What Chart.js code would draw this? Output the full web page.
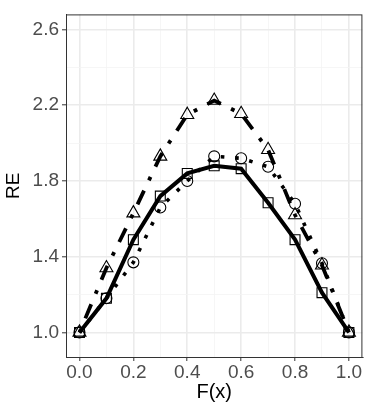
<!DOCTYPE html>
<html>
<head>
<meta charset="utf-8">
<title>RE vs F(x)</title>
<script src="https://cdn.jsdelivr.net/npm/chart.js"></script>
<style>
  html, body { margin: 0; padding: 0; background: #fff; }
  canvas { display: block; }
</style>
</head>
<body>
<canvas id="reChart" width="371" height="409"></canvas>
<script>
// values
const fx = [0.0, 0.1, 0.2, 0.3, 0.4, 0.5, 0.6, 0.7, 0.8, 0.9, 1.0];
const squareRE = [1.00, 1.18, 1.49, 1.72, 1.84, 1.88, 1.865, 1.685, 1.49, 1.21, 1.00];
const circleRE = [1.00, 1.18, 1.37, 1.66, 1.80, 1.93, 1.92, 1.875, 1.68, 1.365, 1.00];
const triangleRE = [1.00, 1.34, 1.63, 1.93, 2.15, 2.225, 2.155, 1.965, 1.62, 1.355, 1.00];

const xTicks = [0, 0.1, 0.2, 0.3, 0.4, 0.5, 0.6, 0.7, 0.8, 0.9, 1.0];
const xMajor = [0, 0.2, 0.4, 0.6, 0.8, 1.0];
const yTicks = [1.0, 1.2, 1.4, 1.6, 1.8, 2.0, 2.2, 2.4, 2.6];
const yMajor = [1.0, 1.4, 1.8, 2.2, 2.6];

const isMajor = (list, v) => list.some(m => Math.abs(m - v) < 1e-6);
const toPoints = ys => fx.map((x, i) => ({ x: x, y: ys[i] }));

// ggplot-like frame around the panel
const panelBorder = {
  id: 'panelBorder',
  afterDraw(chart) {
    const { ctx, chartArea: a } = chart;
    ctx.save();
    ctx.strokeStyle = '#333333';
    ctx.lineWidth = 1;
    ctx.strokeRect(a.left + 0.5, a.top + 0.5, a.right - a.left - 1, a.bottom - a.top);
    ctx.restore();
  }
};

const gridColor = list => c => isMajor(list, c.tick.value) ? '#EBEBEB' : '#F4F4F4';
const gridWidth = list => c => isMajor(list, c.tick.value) ? 1.6 : 0.8;
const tickColor = list => c => isMajor(list, c.tick.value) ? '#333333' : 'rgba(0,0,0,0)';

const ctx = document.getElementById('reChart').getContext('2d');
new Chart(ctx, {
  type: 'line',
  data: {
    datasets: [
      {
        label: 'square',
        data: toPoints(squareRE),
        borderColor: '#000',
        borderWidth: 4,
        pointStyle: 'rect',
        pointRadius: 7,
        pointBorderWidth: 1.1,
        pointBorderColor: '#000',
        pointBackgroundColor: 'rgba(0,0,0,0)',
        tension: 0,
        fill: false
      },
      {
        label: 'circle',
        data: toPoints(circleRE),
        borderColor: '#000',
        borderWidth: 3.6,
        borderDash: [3.6, 10.8],
        borderCapStyle: 'butt',
        pointStyle: 'circle',
        pointRadius: 5.5,
        pointBorderWidth: 1.1,
        pointBorderColor: '#000',
        pointBackgroundColor: 'rgba(0,0,0,0)',
        tension: 0,
        fill: false
      },
      {
        label: 'triangle',
        data: toPoints(triangleRE),
        borderColor: '#000',
        borderWidth: 3.8,
        borderDash: [3.8, 11.4, 15.2, 11.4],
        borderCapStyle: 'butt',
        pointStyle: 'triangle',
        pointRadius: 7.5,
        pointBorderWidth: 1.1,
        pointBorderColor: '#000',
        pointBackgroundColor: 'rgba(0,0,0,0)',
        tension: 0,
        fill: false
      }
    ]
  },
  options: {
    responsive: false,
    animation: false,
    layout: { padding: { top: 5, right: 8, left: 0, bottom: 0 } },
    plugins: {
      legend: { display: false },
      tooltip: { enabled: false }
    },
    scales: {
      x: {
        type: 'linear',
        min: -0.05,
        max: 1.05,
        afterBuildTicks: s => { s.ticks = xTicks.map(v => ({ value: v })); },
        afterFit: s => { s.height = 52; },
        grid: {
          color: gridColor(xMajor),
          lineWidth: gridWidth(xMajor),
          tickColor: tickColor(xMajor),
          tickLength: 4,
          tickWidth: 1
        },
        border: { display: true, color: '#333333', width: 1 },
        ticks: {
          autoSkip: false,
          maxRotation: 0,
          padding: 0,
          color: '#4D4D4D',
          font: { family: '"Liberation Sans", Arial, sans-serif', size: 19 },
          callback: v => isMajor(xMajor, v) ? v.toFixed(1) : ''
        },
        title: {
          display: true,
          text: 'F(x)',
          color: '#000',
          padding: { top: 0, bottom: 5 },
          font: { family: '"Liberation Sans", Arial, sans-serif', size: 20 }
        }
      },
      y: {
        type: 'linear',
        min: 0.87,
        max: 2.68,
        afterBuildTicks: s => { s.ticks = yTicks.map(v => ({ value: v })); },
        afterFit: s => { s.width = 66; },
        grid: {
          color: gridColor(yMajor),
          lineWidth: gridWidth(yMajor),
          tickColor: tickColor(yMajor),
          tickLength: 4,
          tickWidth: 1
        },
        border: { display: true, color: '#333333', width: 1 },
        ticks: {
          autoSkip: false,
          padding: 3,
          color: '#4D4D4D',
          font: { family: '"Liberation Sans", Arial, sans-serif', size: 19 },
          callback: v => isMajor(yMajor, v) ? v.toFixed(1) : ''
        },
        title: {
          display: true,
          text: 'RE',
          color: '#000',
          padding: { top: 2, bottom: 0 },
          font: { family: '"Liberation Sans", Arial, sans-serif', size: 19 }
        }
      }
    }
  },
  plugins: [panelBorder]
});
</script>
</body>
</html>
